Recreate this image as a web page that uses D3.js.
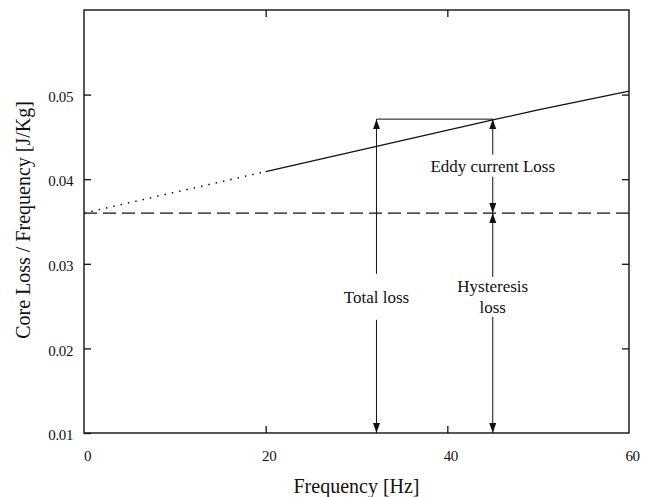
<!DOCTYPE html>
<html>
<head>
<meta charset="utf-8">
<script src="https://cdn.jsdelivr.net/npm/d3@7"></script>
<style>
  body { margin: 0; background: #fff; }
  text { font-family: "Liberation Serif", "Times New Roman", serif; fill: #111; }
</style>
</head>
<body>
<svg id="chart" width="645" height="497"></svg>
<script>
// values
const xTicks = [0, 20, 40, 60];
const yTicks = [0.01, 0.02, 0.03, 0.04, 0.05];

const dottedFreq = [0, 20];
const dottedLoss = [0.036, 0.0409];
const solidFreq = [20, 45, 50, 60];
const solidLoss = [0.0409, 0.0470, 0.0482, 0.0504];
const hysteresisLoss = 0.036;

const totalFreq = 32.2;
const markFreq = 45;
const markLoss = 0.0471;

const labels = [
  { text: ["Total loss"], f: 32.2, v: 0.0261, gap: 46 },
  { text: ["Eddy current Loss"], f: 45, v: 0.0416, gap: 22 },
  { text: ["Hysteresis", "loss"], f: 45, v: 0.0261, gap: 40 }
];

const width = 645;
const height = 497;
const margin = { top: 10, right: 16, bottom: 64, left: 84 };

const svg = d3.select("#chart");

const x = d3.scaleLinear().domain([0, 60]).range([margin.left, width - margin.right]);
const y = d3.scaleLinear().domain([0.01, 0.06]).range([height - margin.bottom, margin.top]);

// arrowhead
svg.append("defs").append("marker")
  .attr("id", "arrow")
  .attr("markerUnits", "userSpaceOnUse")
  .attr("markerWidth", 10)
  .attr("markerHeight", 8)
  .attr("refX", 10)
  .attr("refY", 3.5)
  .attr("orient", "auto-start-reverse")
  .append("path")
  .attr("d", "M0,0 L10,3.5 L0,7 Z")
  .attr("fill", "#111");

const line = d3.line().x(d => x(d[0])).y(d => y(d[1]));

// dashed hysteresis level
svg.append("path")
  .datum([[0, hysteresisLoss], [60, hysteresisLoss]])
  .attr("d", line)
  .attr("fill", "none")
  .attr("stroke", "#111")
  .attr("stroke-width", 1.3)
  .attr("stroke-dasharray", "13,6");

// dotted extrapolation
svg.append("path")
  .datum(dottedFreq.map((f, i) => [f, dottedLoss[i]]))
  .attr("d", line)
  .attr("fill", "none")
  .attr("stroke", "#111")
  .attr("stroke-width", 1.5)
  .attr("stroke-dasharray", "1.5,6");

// measured line
svg.append("path")
  .datum(solidFreq.map((f, i) => [f, solidLoss[i]]))
  .attr("d", line)
  .attr("fill", "none")
  .attr("stroke", "#111")
  .attr("stroke-width", 1.3);

// horizontal bracket at top of total loss
svg.append("path")
  .datum([[totalFreq, markLoss], [markFreq, markLoss]])
  .attr("d", line)
  .attr("stroke", "#111")
  .attr("stroke-width", 1);

// arrows
const arrows = [
  { f: totalFreq, from: markLoss, to: 0.01 },
  { f: markFreq, from: markLoss, to: hysteresisLoss },
  { f: markFreq, from: hysteresisLoss, to: 0.01 }
];
arrows.forEach(a => {
  svg.append("line")
    .attr("x1", x(a.f)).attr("x2", x(a.f))
    .attr("y1", y(a.from)).attr("y2", y(a.to))
    .attr("stroke", "#111")
    .attr("stroke-width", 1)
    .attr("marker-start", "url(#arrow)")
    .attr("marker-end", "url(#arrow)");
});

// labels with gaps in the arrows
labels.forEach(l => {
  const cx = x(l.f), cy = y(l.v);
  svg.append("rect")
    .attr("x", cx - 6).attr("y", cy - l.gap / 2)
    .attr("width", 12).attr("height", l.gap)
    .attr("fill", "#fff");
  const n = l.text.length;
  l.text.forEach((t, i) => {
    svg.append("text")
      .attr("x", cx)
      .attr("y", cy + (i - (n - 1) / 2) * 21)
      .attr("dy", "0.35em")
      .attr("text-anchor", "middle")
      .attr("font-size", "17px")
      .text(t);
  });
});

// frame and ticks
const fmt = d3.format(".2f");
const tickLen = 7;
const axisStyle = g => {
  g.attr("font-family", null);
  g.select(".domain").remove();
  g.selectAll(".tick line").attr("stroke", "#111").attr("stroke-width", 1.3);
  g.selectAll(".tick text")
    .attr("fill", "#111")
    .attr("font-size", "15px")
    .attr("letter-spacing", "-0.4px");
};

svg.append("g")
  .attr("transform", `translate(${margin.left},0)`)
  .call(d3.axisLeft(y).tickValues(yTicks).tickFormat(fmt).tickSizeInner(-tickLen).tickSizeOuter(0).tickPadding(11))
  .call(axisStyle)
  .call(g => g.selectAll(".tick text").attr("dy", "0.45em"));

svg.append("g")
  .attr("transform", `translate(${width - margin.right},0)`)
  .call(d3.axisRight(y).tickValues(yTicks.slice(1)).tickSizeInner(-tickLen).tickSizeOuter(0).tickFormat(""))
  .call(axisStyle);

svg.append("g")
  .attr("transform", `translate(0,${height - margin.bottom})`)
  .call(d3.axisBottom(x).tickValues(xTicks).tickFormat(d3.format("d")).tickSizeInner(-tickLen).tickSizeOuter(0).tickPadding(17))
  .call(axisStyle)
  .call(g => g.selectAll(".tick line").filter(d => d === 0 || d === 60).remove())
  .call(g => g.selectAll(".tick text").attr("dx", "3"));

svg.append("g")
  .attr("transform", `translate(0,${margin.top})`)
  .call(d3.axisTop(x).tickValues([20, 40]).tickSizeInner(-tickLen).tickSizeOuter(0).tickFormat(""))
  .call(axisStyle);

svg.append("rect")
  .attr("x", margin.left)
  .attr("y", margin.top)
  .attr("width", width - margin.left - margin.right)
  .attr("height", height - margin.top - margin.bottom)
  .attr("fill", "none")
  .attr("stroke", "#111")
  .attr("stroke-width", 1.4);

// axis titles
svg.append("text")
  .attr("x", (margin.left + width - margin.right) / 2)
  .attr("y", 493)
  .attr("text-anchor", "middle")
  .attr("font-size", "20px")
  .text("Frequency [Hz]");

svg.append("text")
  .attr("transform", "translate(30,220) rotate(-90)")
  .attr("text-anchor", "middle")
  .attr("font-size", "20px")
  .text("Core Loss / Frequency [J/Kg]");
</script>
</body>
</html>
